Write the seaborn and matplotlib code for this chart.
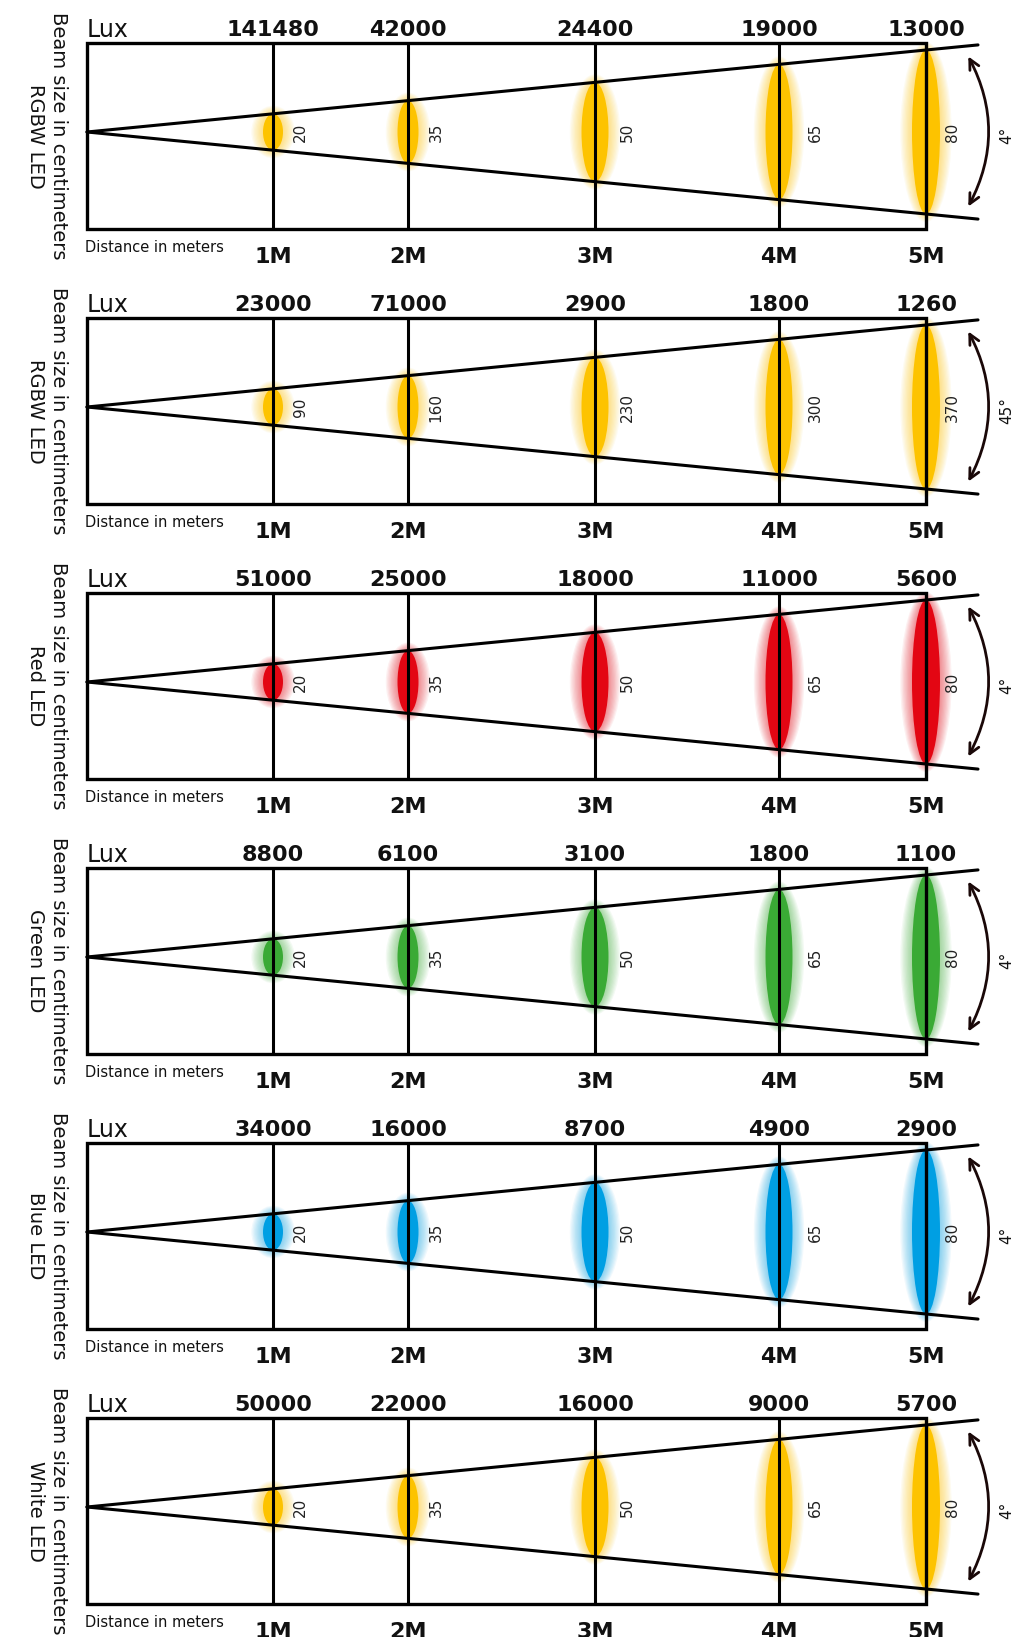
import pandas as pd
import matplotlib.pyplot as plt
import seaborn as sns
from matplotlib.patches import Ellipse, Rectangle, FancyArrowPatch

# beam data
led_names = ["RGBW LED", "RGBW LED", "Red LED", "Green LED", "Blue LED", "White LED"]
beam_angles = ["4°", "45°", "4°", "4°", "4°", "4°"]
distances = ["1M", "2M", "3M", "4M", "5M"]

lux_rgbw_4 = [141480, 42000, 24400, 19000, 13000]
lux_rgbw_45 = [23000, 71000, 2900, 1800, 1260]
lux_red = [51000, 25000, 18000, 11000, 5600]
lux_green = [8800, 6100, 3100, 1800, 1100]
lux_blue = [34000, 16000, 8700, 4900, 2900]
lux_white = [50000, 22000, 16000, 9000, 5700]

size_narrow = [20, 35, 50, 65, 80]
size_wide = [90, 160, 230, 300, 370]

lux_rows = [lux_rgbw_4, lux_rgbw_45, lux_red, lux_green, lux_blue, lux_white]
size_rows = [size_narrow, size_wide, size_narrow, size_narrow, size_narrow, size_narrow]
spot_colors = ["#FDC300", "#FDC300", "#E30613", "#3AAA35", "#009FE3", "#FDC300"]

# layout of the schematic (pixels)
station_x = [273, 408, 595, 779, 926]
spot_w = [20, 21, 27, 27, 28]
label_dx = [27, 28, 32, 36, 26]
box_left = 87
beam_end = 978
panel_h = 186
panel_step = 275
first_top = 43
center_off = 89
slope = 82 / 839

sns.set_style("white")
plt.rcParams["font.family"] = ["DejaVu Sans"]

fig = plt.figure(figsize=(10.23, 16.37), dpi=100)
ax = fig.add_axes([0, 0, 1, 1])

# beam edge lines for all panels
rows = []
for i in range(len(led_names)):
    cy = first_top + i * panel_step + center_off
    for sign in (-1, 1):
        for x in (box_left, beam_end):
            rows.append({"x": x, "y": cy + sign * slope * (x - box_left), "edge": f"{i}{sign}"})
edges = pd.DataFrame(rows)

for i, name in enumerate(led_names):
    top = first_top + i * panel_step
    bottom = top + panel_h
    cy = top + center_off
    col = spot_colors[i]

    # glowing spots
    for j, sx in enumerate(station_x):
        h = 2 * slope * (sx - box_left)
        w = spot_w[j]
        for k in range(1, 10):
            ax.add_patch(Ellipse((sx, cy), w + 2.6 * k, h + 1.8 * k, color=col,
                                 alpha=0.06, lw=0, zorder=1))
        ax.add_patch(Ellipse((sx, cy), w, h, color=col, lw=0, zorder=2))
        ax.text(sx + label_dx[j], cy, str(size_rows[i][j]), rotation=90,
                ha="center", va="center", fontsize=11, color="#222222", zorder=5)
        ax.text(sx, top - 7, str(lux_rows[i][j]), ha="center", va="baseline",
                fontsize=16, fontweight="bold", color="#111111")
        ax.text(sx, bottom + 34, distances[j], ha="center", va="baseline",
                fontsize=16, fontweight="bold", color="#111111")

    ax.add_patch(Rectangle((box_left, top), station_x[-1] - box_left, panel_h,
                           fill=False, lw=2.4, ec="black", zorder=4))
    ax.vlines(station_x[:-1], top, bottom, color="black", lw=2.2, zorder=4)

    ax.text(box_left, top - 6, "Lux", ha="left", va="baseline", fontsize=17,
            color="#111111")
    ax.text(box_left - 2, bottom + 23, "Distance in meters", ha="left",
            va="baseline", fontsize=10.5, color="#111111")
    ax.text(58, top + 93, "Beam size in centimeters", rotation=270,
            ha="center", va="center", fontsize=14, color="#111111")
    ax.text(35, top + 93, name, rotation=270, ha="center", va="center",
            fontsize=14, color="#111111")

    # beam angle arrow
    arc = FancyArrowPatch((967, top + 11), (967, top + 166),
                          connectionstyle="arc3,rad=-0.27", arrowstyle="<->",
                          mutation_scale=18, lw=2, color="#1a0808", zorder=5)
    ax.add_patch(arc)
    ax.text(1007, cy + 3, beam_angles[i], rotation=90, ha="center", va="center",
            fontsize=11, color="#111111")

sns.lineplot(data=edges, x="x", y="y", units="edge", estimator=None,
             color="black", lw=2.2, ax=ax, legend=False, zorder=4)
ax.set_xlim(0, 1023)
ax.set_ylim(1637, 0)
ax.axis("off")

fig.savefig("out.png", dpi=100)
